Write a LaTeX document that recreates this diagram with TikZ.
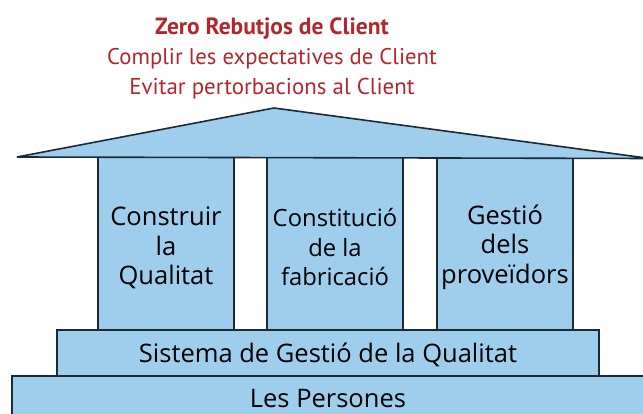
\documentclass[tikz,border=0pt]{standalone}
\usepackage{fontspec}
\setmainfont{Open Sans}
\newfontfamily\titlefont{PT Sans}
\definecolor{fillblue}{HTML}{9FCDEC}
\definecolor{edge}{HTML}{1C2A36}
\definecolor{titlered}{HTML}{B3262B}
\tikzset{
  part/.style={fill=fillblue, draw=edge, line width=1.2pt},
  pillartext/.style={align=center, font=\fontsize{25.5}{29.5}\selectfont, inner sep=0pt, text=black},
  bandtext/.style={font=\fontsize{25.5}{28}\selectfont, inner sep=0pt, text=black, anchor=base},
  redtext/.style={text=titlered, inner sep=0pt, anchor=base}
}
\begin{document}
\begin{tikzpicture}[x=1pt,y=-1pt]
\useasboundingbox (0,0) rectangle (643,414);
\begin{scope}
\clip (0,0) rectangle (643,414);
% base layers
\draw[part] (12,376) rectangle (660,430);
\draw[part] (57,330) rectangle (599,376);
% pillars
\draw[part] (98,157) rectangle (234,330);
\draw[part] (267,157) rectangle (403,330);
\draw[part] (437,157) rectangle (573,330);
% roof
\draw[part, line width=1.6pt, line join=miter] (17,157) -- (274,108) -- (650,158.5) -- cycle;
\end{scope}
% title
\node[redtext, font=\titlefont\fontsize{23.5}{26}\selectfont\bfseries] (t1) at (272,35) {Zero Rebutjos de Client};
\node[redtext, font=\titlefont\fontsize{22.7}{26}\selectfont] (t2) at (272,65) {Complir les expectatives de Client};
\node[redtext, font=\titlefont\fontsize{22.9}{26}\selectfont] (t3) at (272,95) {Evitar pertorbacions al Client};
% pillar texts
\node[pillartext] (p1) at (166,248) {Construir\\la\\Qualitat};
\node[pillartext, font=\fontsize{23.8}{29.5}\selectfont] (p2) at (335,247) {Constitució\\de la\\fabricació};
\node[pillartext] (p3) at (505,247) {Gestió\\dels\\proveïdors};
% band texts
\node[bandtext] (s) at (328,362) {Sistema de Gestió de la Qualitat};
\node[bandtext] (l) at (328,407) {Les Persones};
\end{tikzpicture}
\end{document}
